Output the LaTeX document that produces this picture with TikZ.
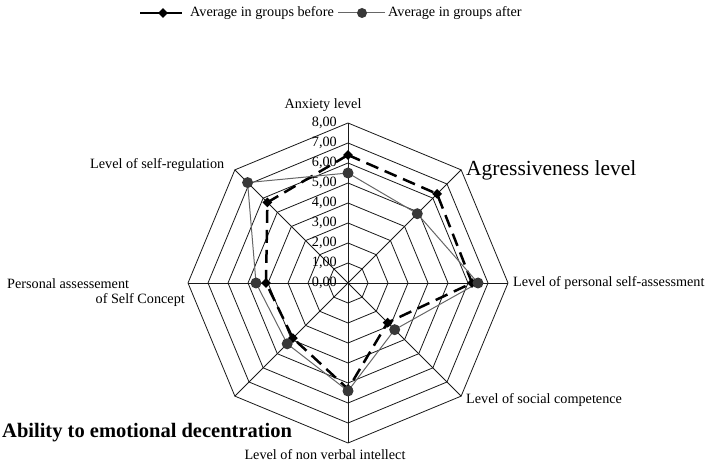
\documentclass[tikz,border=0pt]{standalone}
\usepackage{fontspec}
\setmainfont{Liberation Serif}
\usetikzlibrary{shapes.geometric}
\tikzset{
 gridline/.style={draw=black!90, line width=0.8pt},
 beforeline/.style={draw=black, line width=2.5pt, dash pattern=on 13pt off 7pt},
 afterline/.style={draw=black!60, line width=1pt},
 bmark/.style={diamond, fill=black, inner sep=0pt, minimum size=10pt},
 amark/.style={circle, fill=black!78, inner sep=0pt, minimum size=11pt},
 lbl/.style={inner sep=0pt, font=\fontsize{14.2}{16}\selectfont},
 biglbl/.style={inner sep=0pt, font=\fontsize{21.5}{24}\selectfont},
 boldlbl/.style={inner sep=0pt, font=\bfseries\fontsize{20.5}{24}\selectfont},
}
\begin{document}
\begin{tikzpicture}[x=1pt,y=1pt]
\useasboundingbox (0,0) rectangle (708,468);
% legend
\coordinate (lb1) at (140,455);
\coordinate (lb2) at (182,455);
\draw[line width=2.8pt] (lb1) -- (lb2);
\node[bmark] (lbm) at (163,455) {};
\node[lbl, anchor=west] (lbt) at (190,455) {Average in groups before};
\coordinate (la1) at (338,455);
\coordinate (la2) at (385,455);
\draw[afterline] (la1) -- (la2);
\node[amark, minimum size=10pt] (lam) at (362,455) {};
\node[lbl, anchor=west] (lat) at (388,455) {Average in groups after};
\begin{scope}[shift={(348,185)}]
\coordinate (O) at (0,0);
% rings
\foreach \r in {1,...,8}
  \draw[gridline] (90:20*\r) \foreach \k in {1,...,7}{ -- ({90-45*\k}:20*\r)} -- cycle;
% axes
\foreach \k in {0,...,7}
  \draw[gridline] (O) -- ({90-45*\k}:160);
% scale labels
\foreach \i in {0,...,8}
  \node[lbl, anchor=east] (s\i) at (-11,20*\i) {\i,00};
% data points
\foreach \v [count=\k from 0] in {6.4,6.3,6.2,2.8,5.3,3.9,4.1,5.7}
  \coordinate (pb\k) at ({90-45*\k}:{20*\v});
\foreach \v [count=\k from 0] in {5.5,4.9,6.5,3.3,5.4,4.3,4.6,7.1}
  \coordinate (pa\k) at ({90-45*\k}:{20*\v});
\draw[beforeline] (pb0) -- (pb1) -- (pb2) -- (pb3) -- (pb4) -- (pb5) -- (pb6) -- (pb7) -- cycle;
\draw[afterline] (pa0) -- (pa1) -- (pa2) -- (pa3) -- (pa4) -- (pa5) -- (pa6) -- (pa7) -- cycle;
\foreach \k in {0,...,7} \node[bmark] (b\k) at (pb\k) {};
\foreach \k in {0,...,7} \node[amark] (a\k) at (pa\k) {};
\end{scope}
% category labels
\node[lbl] (c0) at (323,363) {Anxiety level};
\node[biglbl, anchor=west] (c1) at (466,298) {Agressiveness level};
\node[lbl, anchor=west] (c2) at (513,185) {Level of personal self-assessment};
\node[lbl, anchor=west] (c3) at (466,68) {Level of social competence};
\node[lbl] (c4) at (325,13) {Level of non verbal intellect};
\node[boldlbl, anchor=west] (c5) at (2,35) {Ability to emotional decentration};
\node[lbl, anchor=west] (c6a) at (7,184) {Personal assessement};
\node[lbl, anchor=east] (c6b) at (185,168) {of Self Concept};
\node[lbl, anchor=west] (c7) at (90,303) {Level of self-regulation};
\end{tikzpicture}
\end{document}
